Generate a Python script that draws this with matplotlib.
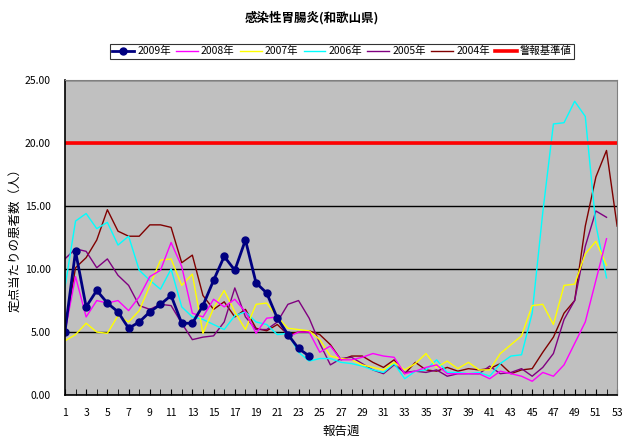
import matplotlib
matplotlib.use("Agg")
import matplotlib.pyplot as plt
from matplotlib.ticker import MultipleLocator, FormatStrFormatter

plt.rcParams['font.family'] = ['Noto Sans CJK JP', 'DejaVu Sans']

# 定点当たりの患者数 (週別)
y2009 = [5.0, 11.4, 7.0, 8.3, 7.3, 6.6, 5.3, 5.8, 6.6, 7.2, 7.9, 5.7, 5.7, 7.1, 9.1,
         11.0, 9.9, 12.3, 8.9, 8.1, 6.1, 4.8, 3.7, 3.1]
y2008 = [5.0, 9.4, 6.2, 7.5, 7.3, 7.5, 6.7, 7.8, 9.4, 9.9, 12.1, 10.2, 6.5, 6.2, 7.6,
         7.0, 7.6, 6.6, 4.9, 6.1, 6.2, 4.6, 5.0, 5.0, 3.4, 3.9, 2.8, 2.8, 3.0, 3.3,
         3.1, 3.0, 1.7, 1.9, 2.2, 2.4, 1.7, 1.7, 1.7, 1.7, 1.3, 1.9, 1.7, 1.5, 1.1,
         1.8, 1.5, 2.4, 4.1, 5.8, 9.1, 12.4]
y2007 = [4.3, 4.8, 5.7, 5.0, 4.9, 6.3, 5.8, 6.7, 8.7, 10.7, 10.8, 8.7, 9.6, 4.9, 6.9,
         8.3, 6.6, 5.2, 7.2, 7.3, 6.2, 5.3, 5.2, 5.1, 4.4, 3.1, 2.9, 2.8, 2.4, 2.2,
         2.0, 2.6, 2.0, 2.5, 3.3, 2.2, 2.7, 2.1, 2.6, 2.0, 2.0, 3.3, 4.0, 4.7, 7.1,
         7.2, 5.6, 8.7, 8.8, 11.2, 12.2, 10.3]
y2006 = [8.5, 13.8, 14.4, 13.2, 13.7, 11.9, 12.6, 9.9, 9.1, 8.4, 10.0, 7.0, 6.2, 6.0,
         5.6, 5.2, 6.3, 6.6, 5.8, 5.6, 4.8, 4.9, 3.4, 2.7, 2.9, 2.9, 2.6, 2.5, 2.3,
         2.0, 1.8, 2.5, 1.3, 1.9, 2.0, 2.8, 1.8, 1.8, 1.7, 1.8, 1.5, 2.5, 3.1, 3.2,
         6.5, 14.5, 21.5, 21.6, 23.3, 22.1, 13.5, 9.3]
y2005 = [10.8, 11.6, 11.4, 10.1, 10.8, 9.5, 8.7, 7.1, 6.8, 7.2, 7.1, 5.7, 4.4, 4.6,
         4.7, 5.8, 8.5, 6.2, 5.2, 5.2, 5.8, 7.2, 7.5, 6.1, 4.1, 2.4, 2.9, 3.0, 2.5,
         2.0, 1.7, 2.4, 1.8, 1.9, 1.8, 2.0, 1.5, 1.7, 1.7, 1.7, 2.3, 1.7, 1.8, 2.1,
         1.5, 2.2, 3.3, 6.0, 7.5, 11.8, 14.6, 14.1]
y2004 = [5.0, 10.1, 10.9, 12.3, 14.7, 13.0, 12.6, 12.6, 13.5, 13.5, 13.3, 10.5, 11.1,
         7.9, 6.8, 7.4, 6.2, 6.8, 5.3, 5.1, 5.6, 4.8, 5.0, 5.1, 4.8, 4.0, 2.8, 3.1,
         3.1, 2.6, 2.2, 2.8, 1.7, 2.6, 2.0, 1.9, 2.2, 1.9, 2.1, 2.0, 2.1, 2.5, 1.7,
         2.0, 2.1, 3.4, 4.6, 6.5, 7.5, 13.4, 17.3, 19.4, 13.4]
alert_level = 20.0
tick_weeks = list(range(1, 54, 2))

fig = plt.figure(figsize=(6.24, 4.41), dpi=100)
ax = fig.add_axes([0.104, 0.104, 0.885, 0.715])
ax.set_facecolor('#C0C0C0')


def weeks(vals):
    return list(range(1, len(vals) + 1))


l04, = ax.plot(weeks(y2004), y2004, color='#800000', lw=1.0, label='2004年')
l05, = ax.plot(weeks(y2005), y2005, color='#800080', lw=1.0, label='2005年')
l06, = ax.plot(weeks(y2006), y2006, color='#00FFFF', lw=1.0, label='2006年')
l07, = ax.plot(weeks(y2007), y2007, color='#FFFF00', lw=1.0, label='2007年')
l08, = ax.plot(weeks(y2008), y2008, color='#FF00FF', lw=1.0, label='2008年')
l09, = ax.plot(weeks(y2009), y2009, color='#000080', lw=2.0, marker='o',
               markersize=5, label='2009年')
lref = ax.axhline(alert_level, color='#FF0000', lw=2.6, label='警報基準値')

ax.set_xlim(1, 53)
ax.set_ylim(0, 25)
ax.yaxis.set_major_locator(MultipleLocator(5))
ax.yaxis.set_major_formatter(FormatStrFormatter('%.2f'))
ax.set_xticks(tick_weeks)
ax.xaxis.set_minor_locator(MultipleLocator(1))
ax.grid(axis='y', color='black', lw=1.0)
ax.set_axisbelow(True)

ax.tick_params(axis='x', which='both', direction='in', length=4, labelsize=7.5, pad=9)
ax.tick_params(axis='y', direction='out', length=0, labelsize=7.5, pad=10)
for s in ['top', 'right']:
    ax.spines[s].set_color('#808080')
for s in ['left', 'bottom']:
    ax.spines[s].set_color('black')
    ax.spines[s].set_linewidth(1.2)

ax.set_xlabel('報告週', fontsize=9, labelpad=5)
ax.set_ylabel('定点当たりの患者数（人）', fontsize=9)
ax.yaxis.set_label_coords(-0.078, 0.5)
fig.suptitle('感染性胃腸炎(和歌山県)', x=0.5, y=0.975, fontsize=9,
             fontweight='bold', style='italic')

leg = fig.legend(handles=[l09, l08, l07, l06, l05, l04, lref], loc='center',
                 bbox_to_anchor=(0.548, 0.884), ncol=7, fontsize=7.5,
                 frameon=True, fancybox=False, edgecolor='black',
                 handlelength=2.1, handletextpad=0.3, columnspacing=0.5,
                 borderpad=0.25, borderaxespad=0)
leg.get_frame().set_linewidth(0.8)

fig.savefig('out.png', dpi=100)
